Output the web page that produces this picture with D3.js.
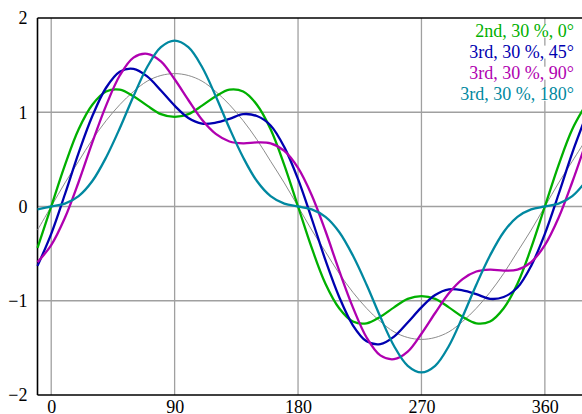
<!DOCTYPE html>
<html>
<head>
<meta charset="utf-8">
<script src="https://cdn.jsdelivr.net/npm/d3@7"></script>
<style>
  body { margin: 0; background: #fff; }
  text { font-family: "Liberation Serif", "Times New Roman", "DejaVu Serif", serif; }
</style>
</head>
<body>
<svg id="chart"></svg>
<script>
// angle in degrees, sampled every 10 deg from -10 to 390
const angles = d3.range(-10, 391, 10);

const baseWave = [-0.25,
  0, 0.25, 0.48, 0.71, 0.91, 1.08, 1.22, 1.33, 1.39, 1.41, 1.39, 1.33, 1.22, 1.08, 0.91, 0.71, 0.48, 0.25,
  0, -0.25, -0.48, -0.71, -0.91, -1.08, -1.22, -1.33, -1.39, -1.41, -1.39, -1.33, -1.22, -1.08, -0.91, -0.71, -0.48, -0.25,
  0, 0.25, 0.48, 0.71];

const greenWave = [-0.44,
  0, 0.44, 0.82, 1.08, 1.22, 1.24, 1.17, 1.07, 0.98, 0.95, 0.98, 1.07, 1.17, 1.24, 1.22, 1.08, 0.82, 0.44,
  0, -0.44, -0.82, -1.08, -1.22, -1.24, -1.17, -1.07, -0.98, -0.95, -0.98, -1.07, -1.17, -1.24, -1.22, -1.08, -0.82, -0.44,
  0, 0.44, 0.82, 1.08];

const blueWave = [-0.63,
  -0.29, 0.13, 0.57, 0.96, 1.26, 1.43, 1.46, 1.38, 1.23, 1.07, 0.94, 0.88, 0.89, 0.93, 0.98, 0.96, 0.86, 0.63,
  0.29, -0.13, -0.57, -0.96, -1.26, -1.43, -1.46, -1.38, -1.23, -1.07, -0.94, -0.88, -0.89, -0.93, -0.98, -0.96, -0.86, -0.63,
  -0.29, 0.13, 0.57, 0.96];

const magentaWave = [-0.59,
  -0.41, -0.12, 0.26, 0.68, 1.07, 1.39, 1.58, 1.62, 1.54, 1.35, 1.13, 0.92, 0.77, 0.69, 0.67, 0.68, 0.67, 0.59,
  0.41, 0.12, -0.26, -0.68, -1.07, -1.39, -1.58, -1.62, -1.54, -1.35, -1.13, -0.92, -0.77, -0.69, -0.67, -0.68, -0.67, -0.59,
  -0.41, -0.12, 0.26, 0.68];

const tealWave = [-0.03,
  0, 0.03, 0.11, 0.27, 0.52, 0.83, 1.17, 1.48, 1.69, 1.76, 1.69, 1.48, 1.17, 0.83, 0.52, 0.27, 0.11, 0.03,
  0, -0.03, -0.11, -0.27, -0.52, -0.83, -1.17, -1.48, -1.69, -1.76, -1.69, -1.48, -1.17, -0.83, -0.52, -0.27, -0.11, -0.03,
  0, 0.03, 0.11, 0.27];

const seriesNames = ["2nd, 30 %, 0°", "3rd, 30 %, 45°", "3rd, 30 %, 90°", "3rd, 30 %, 180°"];
const seriesValues = [greenWave, blueWave, magentaWave, tealWave];
const seriesColors = ["#00b000", "#0000b0", "#b000b0", "#0088a0"];

const xTicks = [0, 90, 180, 270, 360];
const yTicks = [-2, -1, 0, 1, 2];

const width = 582, height = 414;
const margin = { top: 18, left: 37.5, bottom: 19 };
const fontSize = "18px";

const svg = d3.select("#chart").attr("width", width).attr("height", height);

const xScale = d3.scaleLinear().domain([-10, 390]).range([margin.left, 586]);
const yScale = d3.scaleLinear().domain([-2, 2]).range([height - margin.bottom, margin.top]);

// grid
const grid = svg.append("g").attr("stroke", "#a0a0a0").attr("stroke-width", 1.3);
grid.selectAll(".gx")
  .data(xTicks)
  .join("line")
  .attr("x1", (d) => xScale(d)).attr("x2", (d) => xScale(d))
  .attr("y1", yScale(2)).attr("y2", yScale(-2));
grid.selectAll(".gy")
  .data(yTicks.filter((d) => d > -2 && d < 2))
  .join("line")
  .attr("x1", xScale(-10)).attr("x2", xScale(390))
  .attr("y1", (d) => yScale(d)).attr("y2", (d) => yScale(d));

// axes: plain frame, labels only
const xAxis = d3.axisBottom(xScale).tickValues(xTicks).tickSize(0).tickPadding(5.5);
const yAxis = d3.axisLeft(yScale).tickValues(yTicks).tickSize(0).tickPadding(10)
  .tickFormat((d) => (d < 0 ? "\u2212" + Math.abs(d) : d));

const xAxisGroup = svg.append("g")
  .attr("transform", `translate(0,${yScale(-2)})`)
  .call(xAxis);
const yAxisGroup = svg.append("g")
  .attr("transform", `translate(${margin.left},0)`)
  .call(yAxis);

[xAxisGroup, yAxisGroup].forEach((g) => {
  g.attr("font-family", null);
  g.select(".domain").remove();
  g.selectAll("text")
    .attr("fill", "#000")
    .style("font-size", fontSize);
});

// frame lines
svg.append("line")
  .attr("x1", xScale(-10)).attr("x2", xScale(390))
  .attr("y1", yScale(2)).attr("y2", yScale(2))
  .attr("stroke", "#000").attr("stroke-width", 1.6);
svg.append("line")
  .attr("x1", xScale(-10)).attr("x2", xScale(390))
  .attr("y1", yScale(-2)).attr("y2", yScale(-2))
  .attr("stroke", "#000").attr("stroke-width", 1.6);
svg.append("line")
  .attr("x1", xScale(-10)).attr("x2", xScale(-10))
  .attr("y1", yScale(2)).attr("y2", yScale(-2))
  .attr("stroke", "#000").attr("stroke-width", 1.6);

const line = d3.line()
  .x((d) => xScale(d[0]))
  .y((d) => yScale(d[1]))
  .curve(d3.curveCatmullRom.alpha(0.5));

svg.append("path")
  .attr("fill", "none")
  .attr("stroke", "#8c8c8c")
  .attr("stroke-width", 1)
  .attr("d", line(angles.map((a, i) => [a, baseWave[i]])));

svg.selectAll(".wave")
  .data(seriesValues)
  .join("path")
  .attr("class", "wave")
  .attr("fill", "none")
  .attr("stroke", (d, i) => seriesColors[i])
  .attr("stroke-width", 2.3)
  .attr("d", (d) => line(angles.map((a, i) => [a, d[i]])));

// legend, right aligned; white boxes behind each row break the grid line
const legend = svg.append("g").attr("transform", "translate(574,36.5)");
const rows = legend.selectAll("g")
  .data(seriesNames)
  .join("g")
  .attr("transform", (d, i) => `translate(0,${i * 21.1})`);

rows.append("text")
  .attr("text-anchor", "end")
  .attr("fill", (d, i) => seriesColors[i])
  .style("font-size", fontSize)
  .text((d) => d);

rows.each(function () {
  const row = d3.select(this);
  const box = row.select("text").node().getBBox();
  row.insert("rect", "text")
    .attr("x", box.x)
    .attr("y", -12)
    .attr("width", box.width)
    .attr("height", 13)
    .attr("fill", "#fff");
});
</script>
</body>
</html>
